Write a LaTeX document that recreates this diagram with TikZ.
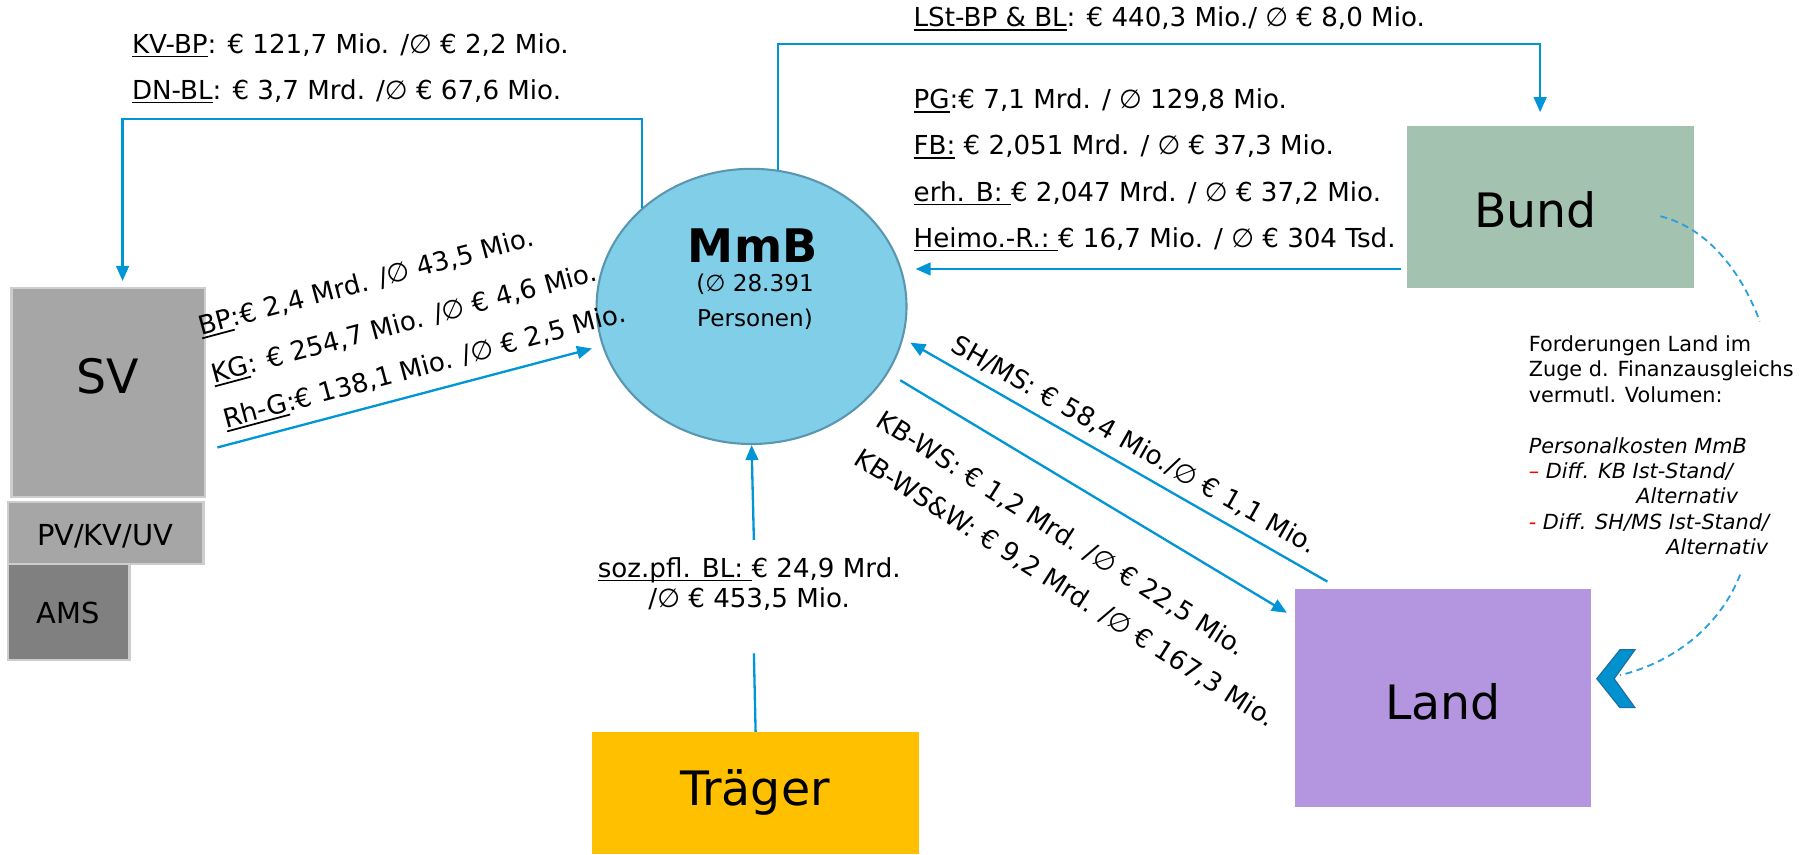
\documentclass[tikz,border=0pt]{standalone}
\usepackage{fontspec}
\setmainfont{DejaVu Sans}
\usetikzlibrary{arrows.meta,shapes.geometric}
\definecolor{arrblue}{HTML}{0096D6}
\definecolor{dashblue}{HTML}{2CA0DC}
\definecolor{mmbfill}{HTML}{80CEE8}
\definecolor{mmbborder}{HTML}{5A96B0}
\definecolor{svgrey}{HTML}{A6A6A6}
\definecolor{svborder}{HTML}{CDCDCD}
\definecolor{amsgrey}{HTML}{808080}
\definecolor{bundfill}{HTML}{A3C2B0}
\definecolor{landfill}{HTML}{B395E0}
\definecolor{traegerfill}{HTML}{FFC000}
\definecolor{chevfill}{HTML}{0091CF}
\definecolor{chevborder}{HTML}{1E6FA0}
\newsavebox\ulbox
\newcommand\myul[1]{\sbox\ulbox{#1}\rlap{\rule[-3.5pt]{\wd\ulbox}{1.5pt}}\usebox\ulbox}
\begin{document}
\begin{tikzpicture}[x=1pt,y=-1pt,
  lbl/.style={font=\fontsize{22.6}{26}\selectfont, inner sep=0pt},
  big/.style={font=\fontsize{41}{48}\selectfont, inner sep=0pt, anchor=base},
  small/.style={font=\fontsize{25}{30}\selectfont, inner sep=0pt, anchor=base},
  arr/.style={draw=arrblue, line width=2pt, -{Triangle[length=13pt,width=11pt]}},
  flow/.style={draw=arrblue, line width=2pt},
  dashline/.style={draw=dashblue, line width=1.6pt, dash pattern=on 6pt off 4pt},
  boxn/.style={inner sep=0pt, outer sep=0pt},
]
\useasboundingbox (0,0) rectangle (1568,739);

% central ellipse
\node[ellipse, fill=mmbfill, draw=mmbborder, line width=1.8pt, minimum width=268pt, minimum height=238pt, inner sep=0pt] (mmb) at (650,265) {};
\node[font=\bfseries\fontsize{40}{44}\selectfont, inner sep=0pt, anchor=base] (mmbt) at (651,227) {MmB};
\node[font=\fontsize{20}{30}\selectfont, align=center, inner sep=0pt] (mmbs) at (653,261) {(∅ 28.391\\Personen)};

% boxes
\node[boxn, fill=svgrey, draw=svborder, line width=2pt, minimum width=167pt, minimum height=181pt] (sv) at (93.5,339.5) {};
\node[big] (svt) at (93,340) {SV};
\node[boxn, fill=svgrey, draw=svborder, line width=2pt, minimum width=169pt, minimum height=54pt] (pv) at (91.5,461) {};
\node[small] (pvt) at (91,472) {PV/KV/UV};
\node[boxn, fill=amsgrey, draw=svborder, line width=2pt, minimum width=105pt, minimum height=83pt] (ams) at (59.5,529.5) {};
\node[small] (amst) at (59,539) {AMS};

\node[boxn, fill=bundfill, minimum width=248pt, minimum height=140pt] (bund) at (1341,179) {};
\node[big] (bundt) at (1328,197) {Bund};
\node[boxn, fill=landfill, minimum width=256pt, minimum height=189pt] (land) at (1248,603.5) {};
\node[big] (landt) at (1248,622) {Land};
\node[boxn, fill=traegerfill, minimum width=283pt, minimum height=106pt] (traeger) at (653.5,686) {};
\node[big] (traegert) at (653,697) {Träger};

% helper coordinates
\coordinate (ytop1) at (0,103);
\coordinate (ytop2) at (0,38);
\coordinate (svout) at (188,387);
\coordinate (tA) at (652,565);
\coordinate (tB) at (652,467);

% connectors
\draw[arr, shorten >=6pt] (mmb.138) -- (mmb.138 |- ytop1) -| ([xshift=12.5pt]sv.north);
\draw[arr, shorten >=12pt] (mmb.79) -- (mmb.79 |- ytop2) -| ([xshift=-9pt]bund.north);
\draw[arr, shorten >=12pt] ([xshift=-5pt]bund.west |- mmb.14.9) -- (mmb.14.9);
\draw[arr, shorten >=9pt] (svout) -- (mmb);
\draw[arr, shorten >=7pt] ([xshift=28pt,yshift=6pt]land.north west) -- (mmb.-12);
\draw[arr, shorten <=12pt] (mmb.-26) -- ([xshift=-7pt,yshift=-21pt]land.north west);
\draw[flow] (traeger.north) -- (tA);
\draw[arr] (tB) -- (mmb.south);

% labels
\node[lbl, anchor=base west] (l1) at (114,46) {\myul{KV-BP}: € 121,7 Mio. /∅ € 2,2 Mio.};
\node[lbl, anchor=base west] (l2) at (114,86) {\myul{DN-BL}: € 3,7 Mrd. /∅ € 67,6 Mio.};
\node[lbl, anchor=base west] (l3) at (790,23) {\myul{LSt-BP \& BL}: € 440,3 Mio./ ∅ € 8,0 Mio.};
\node[lbl, anchor=base west] (l4) at (790,94) {\myul{PG}:€ 7,1 Mrd. / ∅ 129,8 Mio.};
\node[lbl, anchor=base west] (l5) at (790,134) {\myul{FB:} € 2,051 Mrd. / ∅ € 37,3 Mio.};
\node[lbl, anchor=base west] (l6) at (790,174) {\myul{erh. B:\ }€ 2,047 Mrd. / ∅ € 37,2 Mio.};
\node[lbl, anchor=base west] (l7) at (790,214) {\myul{Heimo.-R.:\ }€ 16,7 Mio. / ∅ € 304 Tsd.};
\node[lbl, rotate=15, anchor=base west] (l8) at (174,290) {\myul{BP}:€ 2,4 Mrd. /∅ 43,5 Mio.};
\node[lbl, rotate=15, anchor=base west] (l9) at (185,331.5) {\myul{KG}: € 254,7 Mio. /∅ € 4,6 Mio.};
\node[lbl, rotate=15, anchor=base west] (l10) at (195.5,370.5) {\myul{Rh-G}:€ 138,1 Mio. /∅ € 2,5 Mio.};
\node[lbl, rotate=-29.5] (l11) at (981,385) {SH/MS: € 58,4 Mio./∅ € 1,1 Mio.};
\node[lbl, rotate=-32.5] (l12) at (918,462) {KB-WS: € 1,2 Mrd. /∅ € 22,5 Mio.};
\node[lbl, rotate=-32.5] (l13) at (921,509) {KB-WS\&W: € 9,2 Mrd. /∅ € 167,3 Mio.};
\node[lbl, align=center] (l14) at (648,505) {\myul{soz.pfl. BL:\ }€ 24,9 Mrd.\\/∅ € 453,5 Mio.};

% note
\node[font=\fontsize{18}{22}\selectfont, align=left, inner sep=0pt, anchor=north west] (note) at (1322,290) {Forderungen Land im\\Zuge d. Finanzausgleichs\\vermutl. Volumen:\\\mbox{}\\\textit{Personalkosten MmB}\\{\color{red}–} \textit{Diff. KB Ist-Stand/}\\\hspace*{93pt}\textit{Alternativ}\\{\color{red}-} \textit{Diff. SH/MS Ist-Stand/}\\\hspace*{119pt}\textit{Alternativ}};

% chevron
\draw[fill=chevfill, draw=chevborder, line width=1pt] (1381,587) -- (1401,562) -- (1414,562) -- (1396,587) -- (1414,612) -- (1401,612) -- cycle;
\coordinate (chevin) at (1401,584);
\coordinate (d1) at (1522,278);
\coordinate (d2) at (1505,497);
\draw[dashline] ([xshift=95pt,yshift=-8pt]bund.center) .. controls (1480,198) and (1508,240) .. (d1);
\draw[dashline] (d2) .. controls (1488,540) and (1450,572) .. (chevin);
\end{tikzpicture}
\end{document}
